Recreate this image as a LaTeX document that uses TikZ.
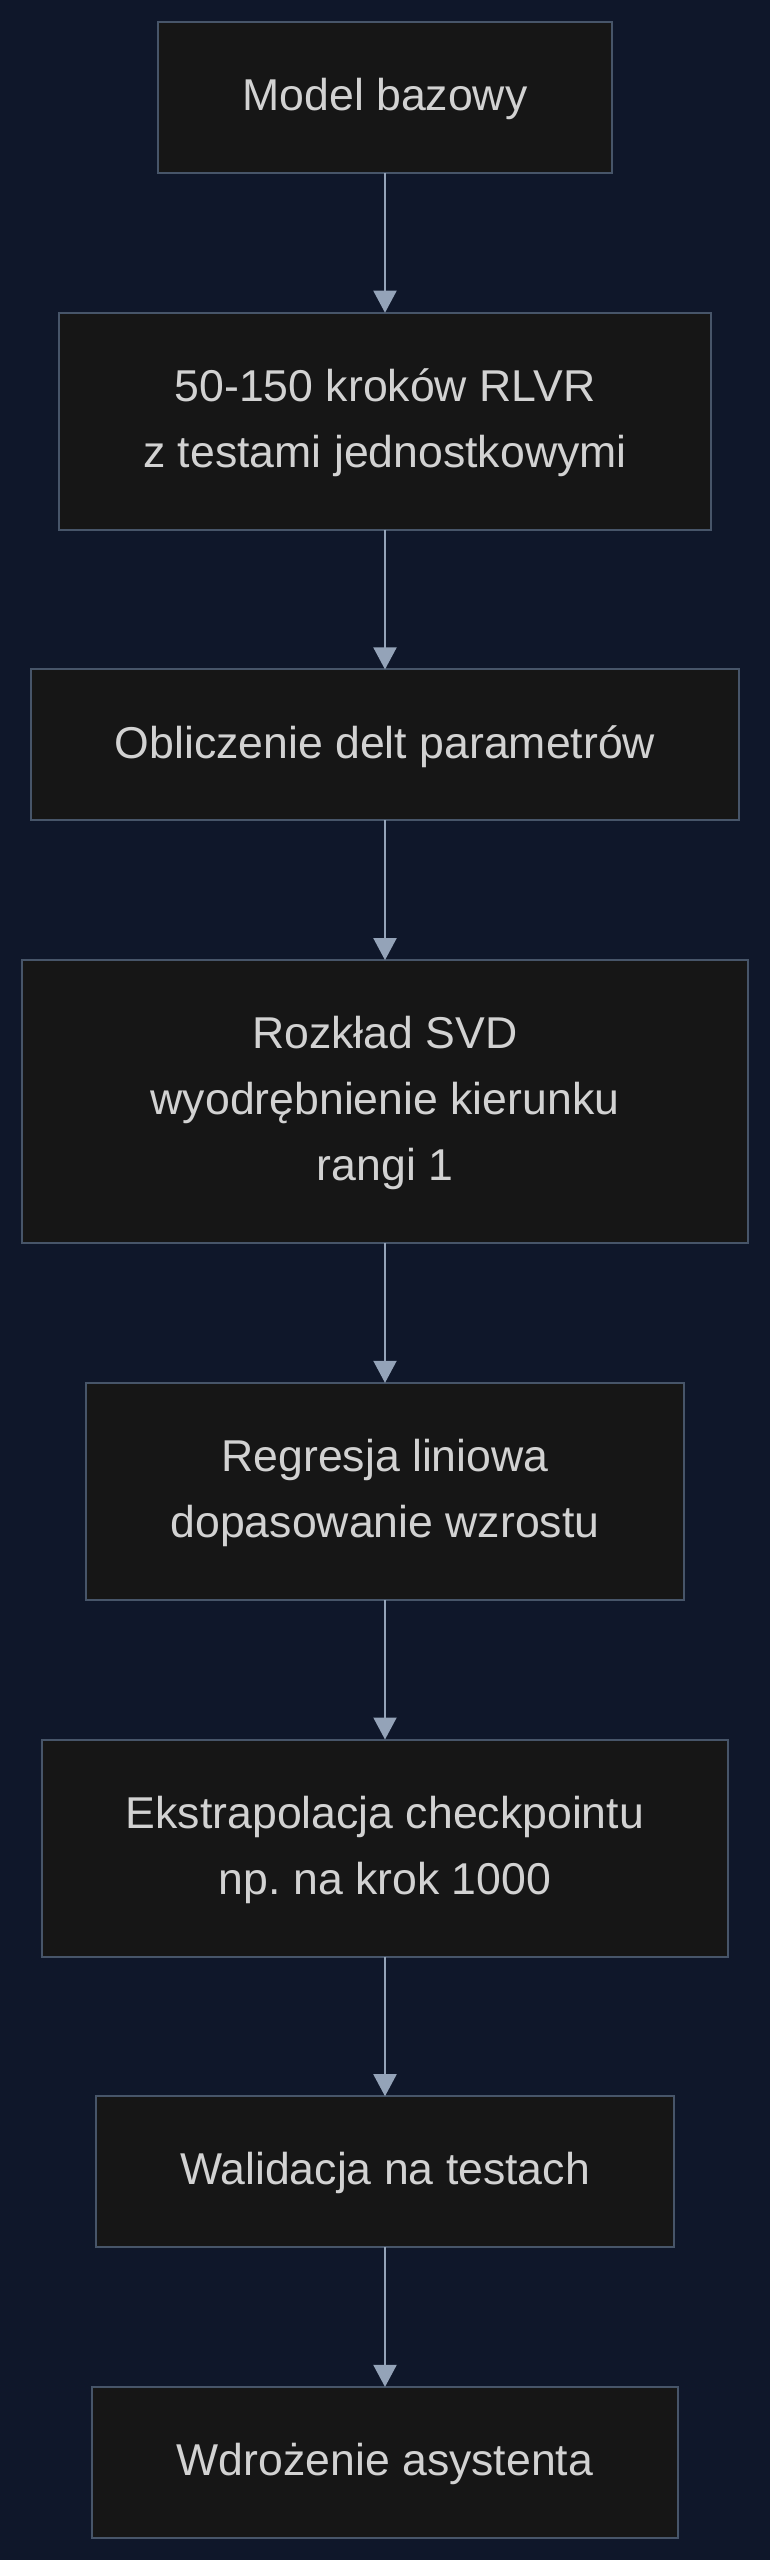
\documentclass[tikz,border=0pt]{standalone}
\usepackage{fontspec}
\setmainfont{Liberation Sans}
\usetikzlibrary{arrows.meta}
\frenchspacing
\definecolor{bgcol}{HTML}{0F172A}
\definecolor{boxfill}{HTML}{161616}
\definecolor{bordercol}{HTML}{475569}
\definecolor{arrowcol}{HTML}{94A3B8}
\definecolor{textcol}{HTML}{D2D2D2}
\tikzset{
  stepbox/.style={draw=bordercol, fill=boxfill, line width=2pt, inner sep=0pt, outer sep=0pt,
    align=center, text=textcol, font=\fontsize{44.6}{66}\selectfont},
  flow/.style={draw=arrowcol, line width=2pt, -{Triangle[length=22pt,width=23pt]}}
}
\begin{document}
\begin{tikzpicture}[x=1pt,y=1pt]
\fill[bgcol] (0,0) rectangle (770,-2560);
\useasboundingbox (0,0) rectangle (770,-2560);
\node[stepbox, minimum width=454pt, minimum height=151pt] (b1) at (385,-97.5) {\strut Model bazowy};
\node[stepbox, minimum width=652pt, minimum height=217pt] (b2) at (385,-421.2) {\strut 50-150 kroków RLVR\\\strut z testami jednostkowymi};
\node[stepbox, minimum width=708pt, minimum height=151pt] (b3) at (385,-744.9) {\strut Obliczenie delt parametrów};
\node[stepbox, minimum width=726pt, minimum height=283pt] (b4) at (385,-1101.6) {\strut Rozkład SVD\\\strut wyodrębnienie kierunku\\\strut rangi 1};
\node[stepbox, minimum width=598pt, minimum height=217pt] (b5) at (385,-1491.3) {\strut Regresja liniowa\\\strut dopasowanie wzrostu};
\node[stepbox, minimum width=686pt, minimum height=217pt] (b6) at (385,-1848) {\strut Ekstrapolacja checkpointu\\\strut np. na krok 1000};
\node[stepbox, minimum width=578pt, minimum height=151pt] (b7) at (385,-2171.7) {\strut Walidacja na testach};
\node[stepbox, minimum width=586pt, minimum height=151pt] (b8) at (385,-2462.4) {\strut Wdrożenie asystenta};
\draw[flow] (b1) -- (b2);
\draw[flow] (b2) -- (b3);
\draw[flow] (b3) -- (b4);
\draw[flow] (b4) -- (b5);
\draw[flow] (b5) -- (b6);
\draw[flow] (b6) -- (b7);
\draw[flow] (b7) -- (b8);
\end{tikzpicture}
\end{document}
